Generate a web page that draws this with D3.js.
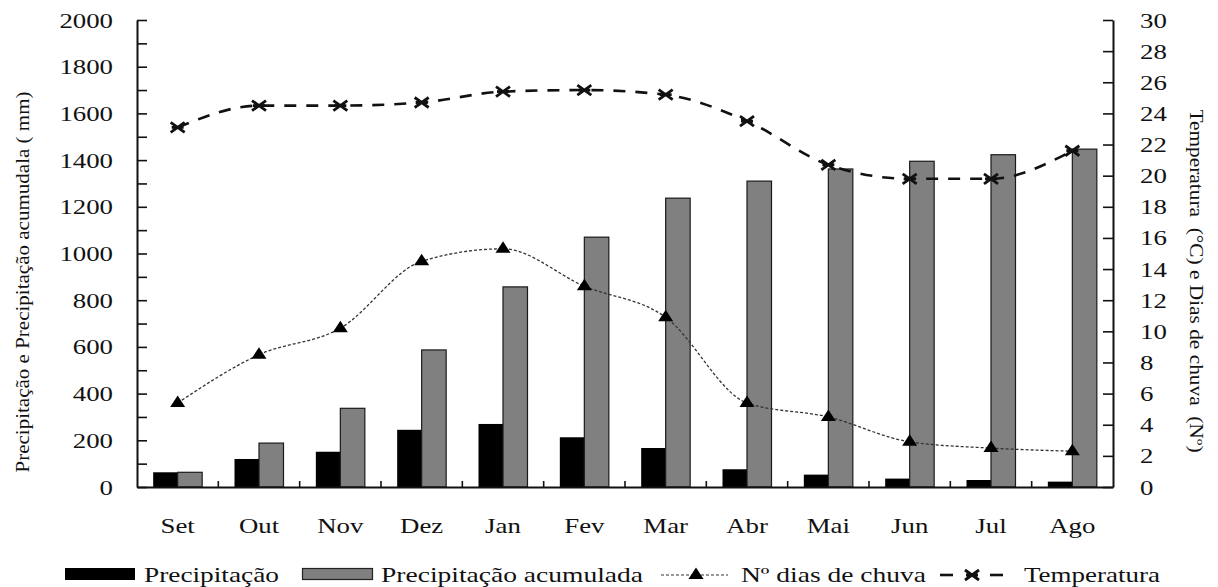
<!DOCTYPE html>
<html><head><meta charset="utf-8">
<script src="https://cdn.jsdelivr.net/npm/d3@7"></script>
<style>body{margin:0;background:#fff}svg{display:block}text{font-family:"Liberation Serif","Times New Roman",serif;fill:#111}</style>
</head><body><svg id="c" width="1218" height="587"></svg>
<script>
const months = ["Set","Out","Nov","Dez","Jan","Fev","Mar","Abr","Mai","Jun","Jul","Ago"];
const precip = [63,120,151,245,270,213,167,76,53,36,30,23];
const precipAcum = [63,188,337,587,857,1070,1237,1310,1362,1395,1423,1447];
const rainDays = [5.4,8.5,10.2,14.5,15.3,12.9,10.9,5.4,4.5,2.9,2.5,2.3];
const temperature = [23.1,24.5,24.5,24.7,25.4,25.5,25.2,23.5,20.7,19.8,19.8,21.6];
const leftTicks = d3.range(0,2001,100);
const rightTicks = d3.range(0,31,2);

const svg = d3.select("#c");
const L=137,R=1113,T=20,B=487, SX=1.22;
const x = d3.scaleBand().domain(months).range([L,R]);
const yL = d3.scaleLinear().domain([0,2000]).range([B,T]);
const yR = d3.scaleLinear().domain([0,30]).range([B,T]);
const bw = 24.5;

// bars
svg.append("g").selectAll("rect").data(months).join("rect")
  .attr("x",(d)=>x(d)+x.bandwidth()/2-bw).attr("width",bw)
  .attr("y",(d,i)=>yL(precip[i])).attr("height",(d,i)=>B-yL(precip[i]))
  .attr("fill","#000");
svg.append("g").selectAll("rect").data(months).join("rect")
  .attr("x",(d)=>x(d)+x.bandwidth()/2).attr("width",bw)
  .attr("y",(d,i)=>yL(precipAcum[i])).attr("height",(d,i)=>B-yL(precipAcum[i]))
  .attr("fill","#808080").attr("stroke","#1a1a1a").attr("stroke-width",1.2);

// axes
const ax = svg.append("g").attr("transform",`translate(${L},0)`)
  .call(d3.axisLeft(yL).tickValues(leftTicks).tickSizeInner(-10).tickSizeOuter(0).tickPadding(24)
    .tickFormat(d=>d%200===0?d:""));
const ar = svg.append("g").attr("transform",`translate(${R},0)`)
  .call(d3.axisRight(yR).tickValues(rightTicks).tickSizeInner(-10).tickSizeOuter(0).tickPadding(27));
[ax,ar].forEach(g=>{
  g.select(".domain").attr("stroke","#111").attr("stroke-width",2);
  g.selectAll(".tick line").attr("stroke","#111").attr("stroke-width",1.6);
  g.selectAll("text").attr("font-size",22).attr("fill","#111")
    .attr("font-family",'"Liberation Serif",serif');
});
ax.selectAll("text").attr("x",-24/SX).attr("transform",`scale(${SX},1)`);
ar.selectAll("text").attr("x",27/SX).attr("transform",`scale(${SX},1)`);

const axb = svg.append("g").attr("transform",`translate(0,${B})`)
  .call(d3.axisBottom(x).tickSize(0).tickPadding(30));
axb.select(".domain").attr("stroke","#111").attr("stroke-width",2);
axb.selectAll(".tick text").attr("font-size",22).attr("fill","#111")
  .attr("font-family",'"Liberation Serif",serif')
  .attr("transform",`scale(${SX},1)`);
// boundary ticks
svg.append("g").selectAll("line").data(months.slice(1)).join("line")
  .attr("x1",d=>x(d)).attr("x2",d=>x(d)).attr("y1",B).attr("y2",B-6)
  .attr("stroke","#111").attr("stroke-width",1.6);

// lines
const cx = d=>x(d)+x.bandwidth()/2;
const rainLine = d3.line().x((d,i)=>cx(months[i])).y(d=>yR(d)).curve(d3.curveMonotoneX);
svg.append("path").attr("d",rainLine(rainDays)).attr("fill","none")
  .attr("stroke","#333").attr("stroke-width",1.3).attr("stroke-dasharray","3,2");
const tempLine = d3.line().x((d,i)=>cx(months[i])).y(d=>yR(d)).curve(d3.curveMonotoneX);
svg.append("path").attr("d",tempLine(temperature)).attr("fill","none")
  .attr("stroke","#111").attr("stroke-width",2.6).attr("stroke-dasharray","12,10");

const triPath = "M0,-7.5L7.5,4L-7.5,4Z";
const xPath = "M-7,-5L7,5M-7,5L7,-5M-6,0L6,0";
svg.append("g").selectAll("path").data(rainDays).join("path")
  .attr("transform",(d,i)=>`translate(${cx(months[i])},${yR(d)})`).attr("d",triPath).attr("fill","#000");
svg.append("g").selectAll("path").data(temperature).join("path")
  .attr("transform",(d,i)=>`translate(${cx(months[i])},${yR(d)})`).attr("d",xPath)
  .attr("stroke","#111").attr("stroke-width",2.8).attr("fill","none");

// axis titles
svg.append("text").attr("transform","translate(29,282) rotate(-90)")
  .attr("text-anchor","middle").attr("font-size",18)
  .attr("textLength",381).attr("lengthAdjust","spacingAndGlyphs")
  .text("Precipitação e Precipitação acumudala ( mm)");
svg.append("text").attr("transform","translate(1190,281) rotate(90)")
  .attr("text-anchor","middle").attr("font-size",18).style("white-space","pre")
  .attr("textLength",343).attr("lengthAdjust","spacingAndGlyphs")
  .text("Temperatura  (°C) e Dias de chuva  (Nº)");

// legend
const lg = svg.append("g");
const ly = 582;
lg.append("rect").attr("x",65).attr("y",568).attr("width",70).attr("height",12).attr("fill","#000");
lg.append("rect").attr("x",302.5).attr("y",568.5).attr("width",70).attr("height",11).attr("fill","#808080").attr("stroke","#222").attr("stroke-width",1.2);
lg.append("line").attr("x1",661).attr("x2",728).attr("y1",575).attr("y2",575).attr("stroke","#333").attr("stroke-width",1.2).attr("stroke-dasharray","3,2");
lg.append("path").attr("transform","translate(696,575)").attr("d",triPath).attr("fill","#000");
lg.append("line").attr("x1",940).attr("x2",953).attr("y1",575).attr("y2",575).attr("stroke","#111").attr("stroke-width",2.6);
lg.append("line").attr("x1",990).attr("x2",1003).attr("y1",575).attr("y2",575).attr("stroke","#111").attr("stroke-width",2.6);
lg.append("path").attr("transform","translate(972,575)").attr("d",xPath).attr("stroke","#111").attr("stroke-width",2.8).attr("fill","none");
const legTexts = [["Precipitação",144,135],["Precipitação acumulada",381,262],["Nº dias de chuva",741,185],["Temperatura",1024,136]];
lg.selectAll("text").data(legTexts).join("text")
  .attr("x",d=>d[1]).attr("y",ly).attr("font-size",22)
  .attr("textLength",d=>d[2]).attr("lengthAdjust","spacingAndGlyphs").text(d=>d[0]);
</script></body></html>
